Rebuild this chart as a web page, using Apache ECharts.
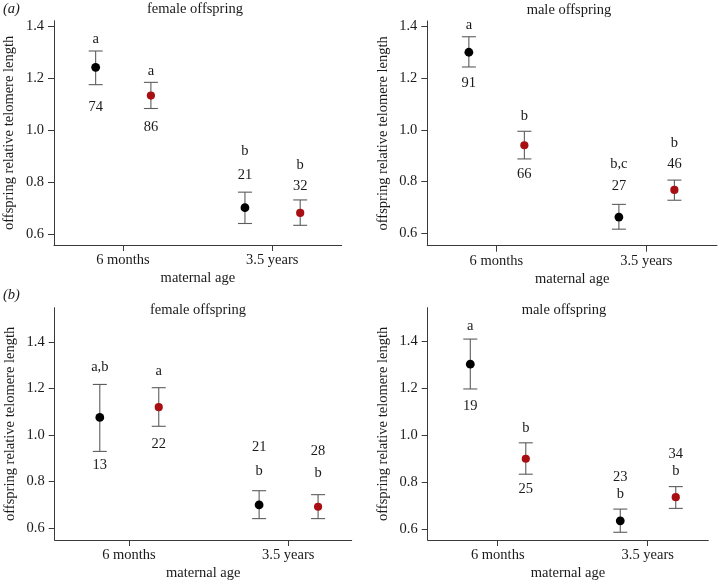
<!DOCTYPE html>
<html>
<head>
<meta charset="utf-8">
<script src="https://cdn.jsdelivr.net/npm/echarts@6/dist/echarts.min.js"></script>
<style>
html,body{margin:0;padding:0;background:#fff;}
#chart{width:718px;height:582px;}
</style>
</head>
<body>
<div id="chart"></div>
<script>
// ---------- data ----------
const categories = ['6 months', '3.5 years'];
const panelTitles = ['female offspring', 'male offspring', 'female offspring', 'male offspring'];
const panelTags = ['(a)', '(b)'];
const yTicks = [0.6, 0.8, 1.0, 1.2, 1.4];
const yAxisName = 'offspring relative telomere length';
const xAxisName = 'maternal age';

// per panel [a-female, a-male, b-female, b-male], per category [6 months, 3.5 years]
const blackMean  = [[1.243, 0.701], [1.301, 0.663], [1.075, 0.699], [1.304, 0.635]];
const blackLower = [[1.176, 0.640], [1.244, 0.616], [0.929, 0.640], [1.198, 0.586]];
const blackUpper = [[1.306, 0.761], [1.361, 0.712], [1.217, 0.760], [1.411, 0.685]];
const redMean    = [[1.134, 0.681], [0.941, 0.768], [1.119, 0.691], [0.900, 0.736]];
const redLower   = [[1.084, 0.633], [0.888, 0.728], [1.037, 0.640], [0.834, 0.688]];
const redUpper   = [[1.185, 0.731], [0.995, 0.806], [1.203, 0.743], [0.968, 0.781]];
const blackLetters = [['a', 'b'], ['a', 'b,c'], ['a,b', 'b'], ['a', 'b']];
const blackN       = [['74', '21'], ['91', '27'], ['13', '21'], ['19', '23']];
const redLetters   = [['a', 'b'], ['b', 'b'], ['a', 'b'], ['b', 'b']];
const redN         = [['86', '32'], ['66', '46'], ['22', '28'], ['25', '34']];

// ---------- layout / style ----------
const FONT = "'Liberation Serif','Times New Roman',serif";
const FS = 14.5;
const grids = [
  {left: 54,    top: 20.7,  width: 287.7, height: 224.3, xmin: 0.538, xmax: 2.465, ymin: 0.557, ymax: 1.423},
  {left: 427.3, top: 21,    width: 289.7, height: 224.7, xmin: 0.540, xmax: 2.471, ymin: 0.552, ymax: 1.422},
  {left: 54.7,  top: 307.7, width: 297,   height: 234.5, xmin: 0.534, xmax: 2.398, ymin: 0.548, ymax: 1.547},
  {left: 427.7, top: 307.7, width: 280.6, height: 233,   xmin: 0.533, xmax: 2.404, ymin: 0.553, ymax: 1.545}
];
const groupShift = [-0.183, 0.187];
// label offsets in px: letter relative to upper whisker; n relative to [ref, dy]
const blackLabelLayout = [
  [{l: -11.7, n: ['lo', 22.7]}, {l: -40.7, n: ['hi', -16.7]}],
  [{l: -11.7, n: ['lo', 16.3]}, {l: -40,   n: ['hi', -18.6]}],
  [{l: -17.7, n: ['lo', 14]},   {l: -19.6, n: ['hi', -43.3]}],
  [{l: -13,   n: ['lo', 17.7]}, {l: -15.3, n: ['hi', -31.6]}]
];
const redLabelLayout = [
  [{l: -11,   n: ['lo', 18.7]}, {l: -34.3, n: ['hi', -13.3]}],
  [{l: -14.6, n: ['lo', 15.3]}, {l: -36.7, n: ['hi', -15.7]}],
  [{l: -16.3, n: ['lo', 17.7]}, {l: -21.3, n: ['hi', -43]}],
  [{l: -14.7, n: ['lo', 14.7]}, {l: -15,   n: ['hi', -32.4]}]
];
const titleLayout = [[195, 9.5], [569, 10.5], [198, 310.5], [564, 310.5]];
const tagLayout = [[3, 9.5], [3, 295.5]];
const colors = {black: '#000000', red: '#a80f12', bar: '#5c5c5c', axis: '#3a3a3a', text: '#1a1a1a'};

function makeSeries(p, mean, lower, upper, letters, ns, layout, color, gi, radius) {
  const data = categories.map((c, i) => [i + 1 + groupShift[gi], mean[p][i], lower[p][i], upper[p][i]]);
  return {
    type: 'custom',
    xAxisIndex: p, yAxisIndex: p,
    clip: false,
    data: data,
    renderItem: function (params, api) {
      const i = params.dataIndex;
      const x = api.value(0);
      const pm = api.coord([x, api.value(1)]);
      const plo = api.coord([x, api.value(2)]);
      const phi = api.coord([x, api.value(3)]);
      const cap = 7;
      const lay = layout[p][i];
      const nRef = lay.n[0] === 'lo' ? plo[1] : phi[1];
      const lineStyle = {stroke: colors.bar, lineWidth: 1.1};
      return {
        type: 'group',
        children: [
          {type: 'line', shape: {x1: pm[0], y1: plo[1], x2: pm[0], y2: phi[1]}, style: lineStyle},
          {type: 'line', shape: {x1: pm[0] - cap, y1: phi[1], x2: pm[0] + cap, y2: phi[1]}, style: lineStyle},
          {type: 'line', shape: {x1: pm[0] - cap, y1: plo[1], x2: pm[0] + cap, y2: plo[1]}, style: lineStyle},
          {type: 'circle', shape: {cx: pm[0], cy: pm[1], r: radius}, style: {fill: color}},
          {type: 'text', x: pm[0], y: phi[1] + lay.l, style: {text: letters[p][i], fill: colors.text, font: FS + 'px ' + FONT, align: 'center', verticalAlign: 'middle'}},
          {type: 'text', x: pm[0], y: nRef + lay.n[1], style: {text: ns[p][i], fill: colors.text, font: FS + 'px ' + FONT, align: 'center', verticalAlign: 'middle'}}
        ]
      };
    }
  };
}

const option = {
  animation: false,
  backgroundColor: '#ffffff',
  grid: grids.map(g => ({left: g.left, top: g.top, width: g.width, height: g.height, containLabel: false})),
  xAxis: grids.map((g, p) => ({
    type: 'value', gridIndex: p, min: g.xmin, max: g.xmax,
    splitLine: {show: false},
    axisLine: {show: true, lineStyle: {color: colors.axis, width: 1}},
    axisTick: {show: true, length: 6, lineStyle: {color: colors.axis}, customValues: [1, 2]},
    axisLabel: {show: true, margin: 8, color: colors.text, fontFamily: FONT, fontSize: FS,
      customValues: [1, 2], formatter: v => categories[Math.round(v) - 1] || ''},
    name: xAxisName, nameLocation: 'middle', nameGap: 26,
    nameTextStyle: {color: colors.text, fontFamily: FONT, fontSize: FS}
  })),
  yAxis: grids.map((g, p) => ({
    type: 'value', gridIndex: p, min: g.ymin, max: g.ymax,
    splitLine: {show: false},
    axisLine: {show: true, lineStyle: {color: colors.axis, width: 1}},
    axisTick: {show: true, length: 6, lineStyle: {color: colors.axis}, customValues: yTicks},
    axisLabel: {show: true, margin: 10, color: colors.text, fontFamily: FONT, fontSize: FS,
      customValues: yTicks, formatter: v => v.toFixed(1)},
    name: yAxisName, nameLocation: 'middle', nameGap: 37,
    nameTextStyle: {color: colors.text, fontFamily: FONT, fontSize: FS}
  })),
  graphic: [
    ...panelTitles.map((t, p) => ({type: 'text', x: titleLayout[p][0], y: titleLayout[p][1],
      style: {text: t, fill: colors.text, font: FS + 'px ' + FONT, align: 'center', verticalAlign: 'middle'}})),
    ...panelTags.map((t, k) => ({type: 'text', x: tagLayout[k][0], y: tagLayout[k][1],
      style: {text: t, fill: colors.text, font: 'italic ' + FS + 'px ' + FONT, align: 'left', verticalAlign: 'middle'}}))
  ],
  series: []
};
for (let p = 0; p < 4; p++) {
  option.series.push(makeSeries(p, blackMean, blackLower, blackUpper, blackLetters, blackN, blackLabelLayout, colors.black, 0, 4.4));
  option.series.push(makeSeries(p, redMean, redLower, redUpper, redLetters, redN, redLabelLayout, colors.red, 1, 4.1));
}
const chart = echarts.init(document.getElementById('chart'), null, {renderer: 'canvas'});
chart.setOption(option);
</script>
</body>
</html>
